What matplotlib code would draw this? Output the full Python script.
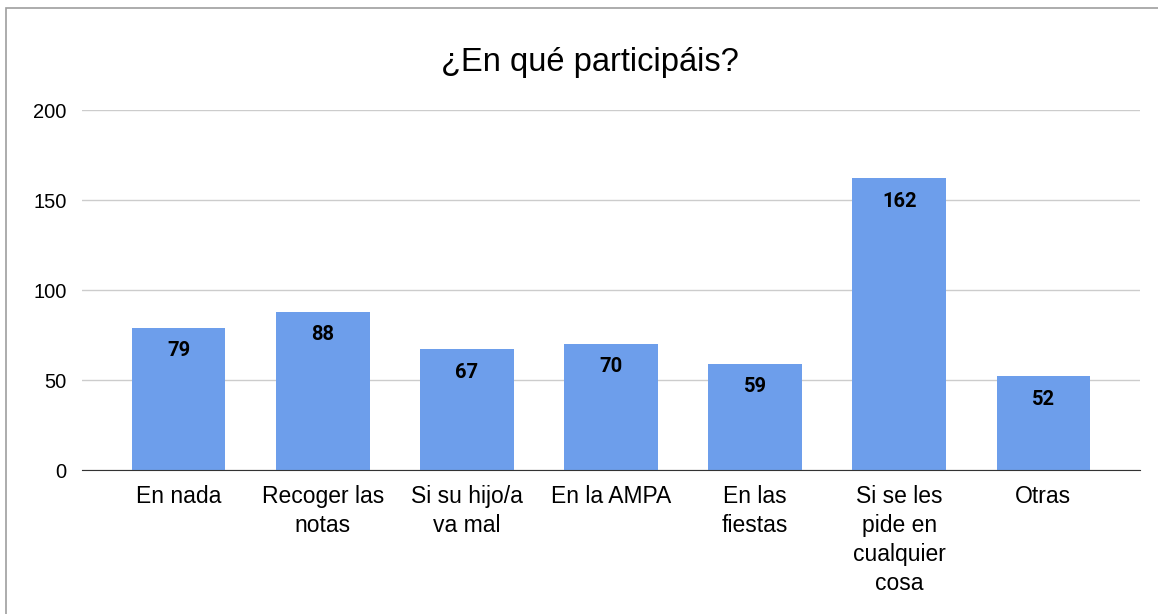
import matplotlib.pyplot as plt
from matplotlib.patches import Rectangle

categories = ['En nada', 'Recoger las\nnotas', 'Si su hijo/a\nva mal', 'En la AMPA',
              'En las\nfiestas', 'Si se les\npide en\ncualquier\ncosa', 'Otras']
values = [79, 88, 67, 70, 59, 162, 52]
yticks = [0, 50, 100, 150, 200]

plt.rcParams['font.family'] = ['Liberation Sans', 'DejaVu Sans']

fig = plt.figure(figsize=(11.58, 6.14), dpi=100)
ax = fig.add_axes([82/1158, 1-470/614, (1140-82)/1158, 360/614])

x = range(len(values))
bars = ax.bar(x, values, width=0.65, color='#6d9eeb', zorder=3)
for b, v in zip(bars, values):
    ax.annotate(str(v), (b.get_x() + b.get_width()/2, v), xytext=(0, -23),
                textcoords='offset pixels', ha='center', va='center',
                fontsize=14.5, fontweight='bold', family='Roboto', zorder=4)

ax.set_xlim(-0.67, 6.67)
ax.set_ylim(0, 200)
ax.set_yticks(yticks)
ax.set_xticks(list(x))
ax.set_xticklabels(categories, fontsize=16.5, linespacing=1.34, va='top')
ax.tick_params(axis='both', length=0, colors='#000000')
ax.tick_params(axis='y', labelsize=14.5, pad=11)
ax.tick_params(axis='x', pad=10.5)
ax.grid(axis='y', color='#cccccc', linewidth=1, zorder=0)
for s in ['top', 'right', 'left']:
    ax.spines[s].set_visible(False)
ax.spines['bottom'].set_color('#333333')
ax.spines['bottom'].set_zorder(5)

fig.text(590/1158, 1-63/614, '¿En qué participáis?', ha='center', va='center', fontsize=23.5)

# outer border (chart frame, cut off at right and bottom)
fig.patches.append(Rectangle((6/1158, -0.1), 2, 1 - 8/614 + 0.1, transform=fig.transFigure,
                             fill=False, edgecolor='#9e9e9e', linewidth=1.2))

plt.savefig('out.png', dpi=100)
